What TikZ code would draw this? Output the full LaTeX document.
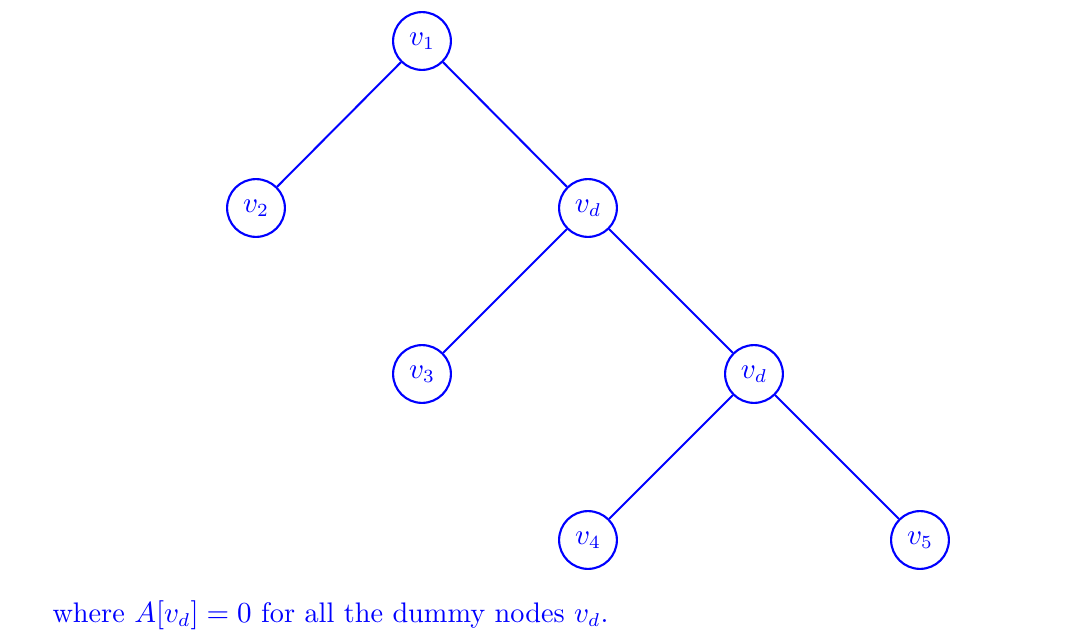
\documentclass[tikz,border=0pt]{standalone}
\begin{document}
\begin{tikzpicture}[x=0.013262cm,y=-0.013262cm,
  every node/.style={font=\fontsize{10.67}{12.8}\selectfont},
  vert/.style={circle,draw=blue,text=blue,line width=0.8pt,minimum size=21.8pt,inner sep=0pt},
  edge/.style={draw=blue,line width=0.75pt}]
\useasboundingbox (0,0) rectangle (1065,634);
\node[vert] (v1) at (422,41) {$v_1$};
\node[vert] (v2) at (256,208) {$v_2$};
\node[vert] (d1) at (588,208) {$v_d$};
\node[vert] (v3) at (422,374) {$v_3$};
\node[vert] (d2) at (754,374) {$v_d$};
\node[vert] (v4) at (588,540) {$v_4$};
\node[vert] (v5) at (920,540) {$v_5$};
\path[edge] (v1) -- (v2);
\path[edge] (v1) -- (d1);
\path[edge] (d1) -- (v3);
\path[edge] (d1) -- (d2);
\path[edge] (d2) -- (v4);
\path[edge] (d2) -- (v5);
\node[text=blue,anchor=base west,inner sep=0pt] (cap) at (52,622) {where $A[v_d]=0$ for all the dummy nodes $v_d$.};
\end{tikzpicture}
\end{document}
